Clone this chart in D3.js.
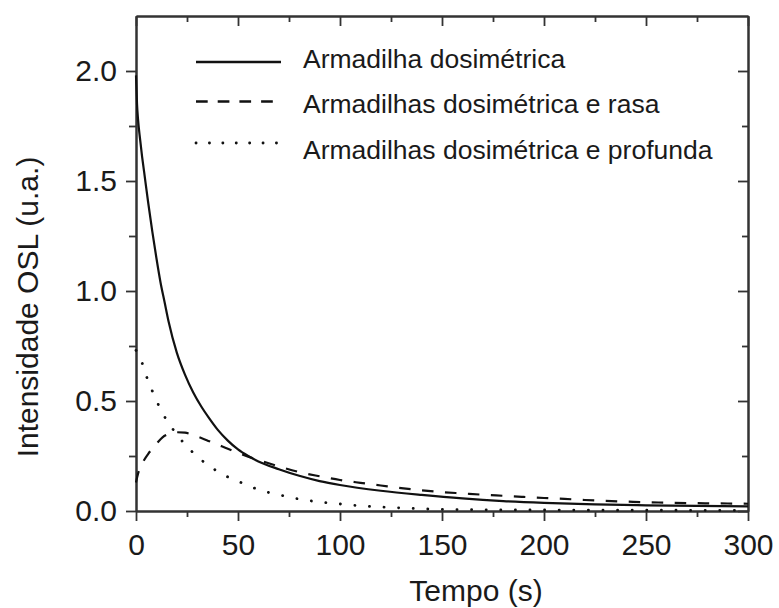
<!DOCTYPE html>
<html>
<head>
<meta charset="utf-8">
<script src="https://cdn.jsdelivr.net/npm/d3@7/dist/d3.min.js"></script>
<style>
  html, body { margin: 0; padding: 0; background: #fff; }
  svg { display: block; font-family: "Liberation Sans", Arial, Helvetica, sans-serif; }
</style>
</head>
<body>
<svg id="chart" width="779" height="608"></svg>
<script>
// OSL decay curves: intensity versus illumination time for three trap models
const seriesNames = [
  "Armadilha dosimétrica",
  "Armadilhas dosimétrica e rasa",
  "Armadilhas dosimétrica e profunda"
];

// Dosimetric trap only
const tSolid = [0, 0.5, 1, 2, 3, 4, 6, 8, 10, 12, 14, 16, 20, 24, 28, 32, 36, 40, 45, 50, 55, 60, 70, 80, 90, 100, 120, 140, 160, 180, 200, 225, 250, 275, 300];
const ySolid = [1.98, 1.85, 1.78, 1.69, 1.61, 1.54, 1.40, 1.27, 1.15, 1.04, 0.95, 0.86, 0.72, 0.62, 0.54, 0.475, 0.42, 0.37, 0.32, 0.28, 0.25, 0.225, 0.19, 0.16, 0.136, 0.118, 0.092, 0.073, 0.057, 0.045, 0.037, 0.030, 0.026, 0.023, 0.021];

// Dosimetric + shallow trap
const tDash = [0, 1, 2, 3, 4, 6, 8, 10, 13, 16, 20, 24, 28, 32, 36, 40, 45, 50, 55, 60, 70, 80, 90, 100, 110, 120, 130, 140, 150, 160, 170, 180, 190, 200, 210, 220, 230, 240, 250, 260, 270, 280, 290, 300];
const yDash = [0.13, 0.17, 0.195, 0.215, 0.232, 0.26, 0.283, 0.305, 0.335, 0.35, 0.358, 0.356, 0.345, 0.332, 0.317, 0.302, 0.283, 0.265, 0.247, 0.232, 0.203, 0.177, 0.158, 0.141, 0.128, 0.116, 0.104, 0.094, 0.086, 0.080, 0.074, 0.069, 0.064, 0.059, 0.055, 0.050, 0.046, 0.043, 0.040, 0.038, 0.036, 0.035, 0.034, 0.033];

// Dosimetric + deep trap
const tDot = [0, 2, 4, 6, 8, 10, 13, 16, 20, 24, 28, 32, 36, 40, 45, 50, 55, 60, 70, 80, 90, 100, 110, 120, 130, 140, 150, 170, 200, 250, 300];
const yDot = [0.73, 0.70, 0.643, 0.59, 0.545, 0.503, 0.445, 0.40, 0.348, 0.303, 0.265, 0.232, 0.204, 0.18, 0.155, 0.135, 0.116, 0.097, 0.074, 0.054, 0.041, 0.032, 0.024, 0.018, 0.014, 0.010, 0.0075, 0.0055, 0.0045, 0.0035, 0.003];

const xMajor = [0, 50, 100, 150, 200, 250, 300];
const xMinor = [25, 75, 125, 175, 225, 275];
const yMajor = [0.0, 0.5, 1.0, 1.5, 2.0];
const yMinor = [0.25, 0.75, 1.25, 1.75];

const xTitle = "Tempo (s)";
const yTitle = "Intensidade OSL (u.a.)";

const svg = d3.select("#chart");
const plotLeft = 136, plotRight = 748, plotTop = 16, plotBottom = 511;
const ink = "#1a1a1a", frameInk = "#333";

const x = d3.scaleLinear().domain([0, 300]).range([plotLeft, plotRight]);
const y = d3.scaleLinear().domain([0, 2.25]).range([plotBottom, plotTop]);

function styleAxis(g, showText) {
  g.selectAll(".domain").attr("stroke", frameInk).attr("stroke-width", 2);
  g.selectAll(".tick line").attr("stroke", frameInk).attr("stroke-width", 1.8);
  g.selectAll(".tick text")
    .attr("fill", ink)
    .style("font-size", "30px")
    .style("display", showText ? null : "none");
}

// Minor ticks
svg.append("g").attr("transform", `translate(0,${plotBottom})`)
  .call(d3.axisBottom(x).tickValues(xMinor).tickSize(6).tickSizeOuter(0).tickFormat(""))
  .call(g => styleAxis(g, false));
svg.append("g").attr("transform", `translate(0,${plotTop})`)
  .call(d3.axisTop(x).tickValues(xMinor).tickSize(-6).tickSizeOuter(0).tickFormat(""))
  .call(g => styleAxis(g, false));
svg.append("g").attr("transform", `translate(${plotLeft},0)`)
  .call(d3.axisLeft(y).tickValues(yMinor).tickSize(7).tickSizeOuter(0).tickFormat(""))
  .call(g => styleAxis(g, false));
svg.append("g").attr("transform", `translate(${plotRight},0)`)
  .call(d3.axisRight(y).tickValues(yMinor).tickSize(-6).tickSizeOuter(0).tickFormat(""))
  .call(g => styleAxis(g, false));

// Major ticks and labels
svg.append("g").attr("transform", `translate(0,${plotBottom})`)
  .call(d3.axisBottom(x).tickValues(xMajor).tickSize(10).tickSizeOuter(0).tickPadding(12.5).tickFormat(d3.format("d")))
  .call(g => styleAxis(g, true));
svg.append("g").attr("transform", `translate(0,${plotTop})`)
  .call(d3.axisTop(x).tickValues(xMajor).tickSize(-10).tickSizeOuter(0).tickFormat(""))
  .call(g => styleAxis(g, false));
svg.append("g").attr("transform", `translate(${plotLeft},0)`)
  .call(d3.axisLeft(y).tickValues(yMajor).tickSize(10).tickSizeOuter(0).tickPadding(9).tickFormat(d3.format(".1f")))
  .call(g => styleAxis(g, true));
svg.append("g").attr("transform", `translate(${plotRight},0)`)
  .call(d3.axisRight(y).tickValues(yMajor).tickSize(-10).tickSizeOuter(0).tickFormat(""))
  .call(g => styleAxis(g, false));

// Curves
const line = d3.line().x(d => x(d[0])).y(d => y(d[1])).curve(d3.curveMonotoneX);
const series = [
  { t: tSolid, v: ySolid, dash: null, cap: "butt" },
  { t: tDash, v: yDash, dash: "11.5 11.5", cap: "butt" },
  { t: tDot, v: yDot, dash: "0.1 14.5", cap: "round" }
];
const legendDash = [null, "11.7 10", "0.1 13.3"];

svg.append("g").selectAll("path")
  .data(series)
  .join("path")
  .attr("d", s => line(d3.zip(s.t, s.v)))
  .attr("fill", "none")
  .attr("stroke", "#111")
  .attr("stroke-width", (s, i) => i === 2 ? 2.8 : 2.2)
  .attr("stroke-linecap", s => s.cap)
  .attr("stroke-dasharray", s => s.dash);

// Legend
const legendLineY = [62, 101.5, 143];
const legendTextY = [68, 113, 159];
const legend = svg.append("g");
seriesNames.forEach((name, i) => {
  legend.append("line")
    .attr("x1", 196).attr("x2", 281)
    .attr("y1", legendLineY[i]).attr("y2", legendLineY[i])
    .attr("stroke", "#111")
    .attr("stroke-width", i === 2 ? 2.8 : 2.6)
    .attr("stroke-linecap", i === 2 ? "round" : "butt")
    .attr("stroke-dasharray", legendDash[i]);
  legend.append("text")
    .attr("x", 303).attr("y", legendTextY[i])
    .attr("fill", ink)
    .style("font-size", "26.5px")
    .text(name);
});

// Axis titles
svg.append("text")
  .attr("x", 476).attr("y", 601)
  .attr("text-anchor", "middle")
  .attr("fill", ink)
  .style("font-size", "30px")
  .text(xTitle);

svg.append("text")
  .attr("transform", "translate(38,307) rotate(-90)")
  .attr("text-anchor", "middle")
  .attr("fill", ink)
  .style("font-size", "30px")
  .text(yTitle);
</script>
</body>
</html>
